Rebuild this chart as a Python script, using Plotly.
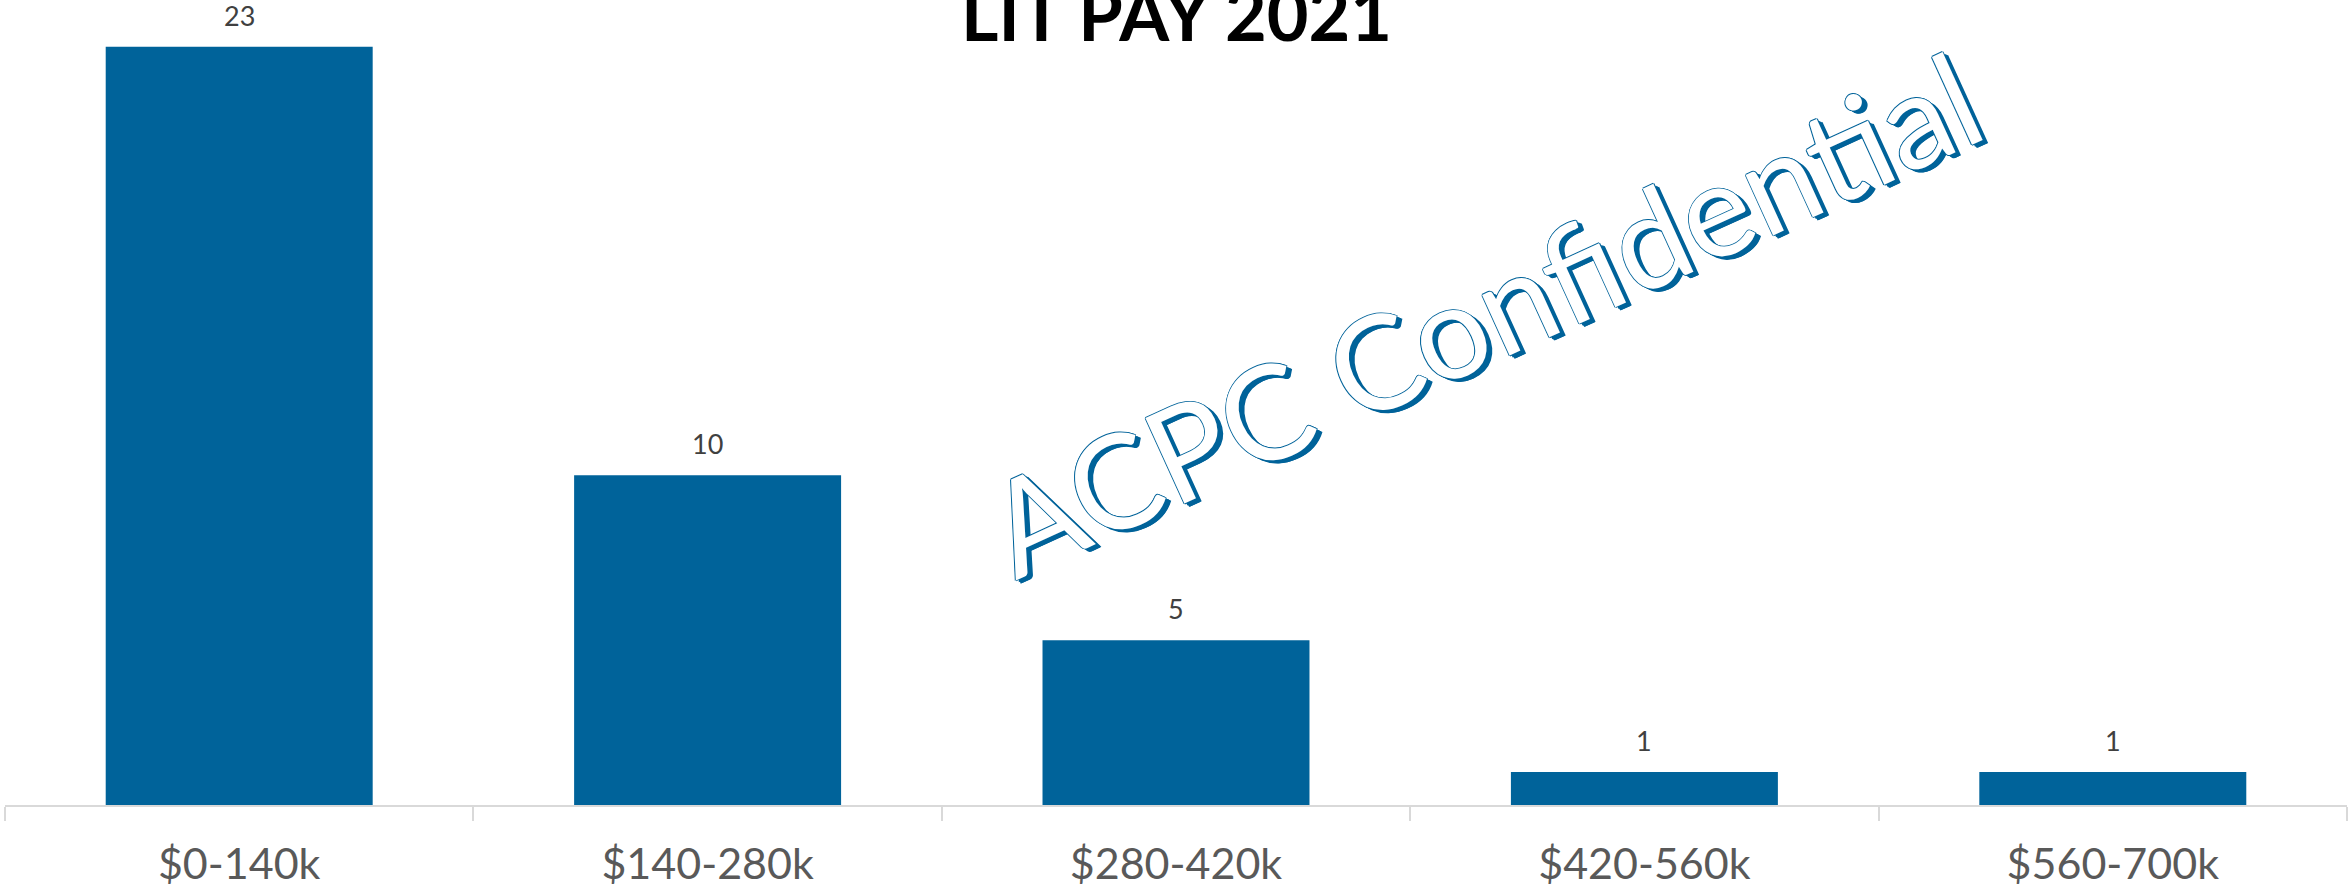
import plotly.graph_objects as go

categories = ["$0-140k", "$140-280k", "$280-420k", "$420-560k", "$560-700k"]
counts = [23, 10, 5, 1, 1]
title_text = "LIT PAY 2021"
watermark_text = "ACPC Confidential"

BLUE = "#00639A"
W, H = 2348, 890
ML, MR, MT, MB = 5, 1, 0, 85
PLOT_H = H - MT - MB

fig = go.Figure()
fig.add_trace(go.Bar(
    x=categories, y=counts,
    marker=dict(color=BLUE, line=dict(width=0)),
    hoverinfo="skip",
))

# data labels
for c, v in zip(categories, counts):
    fig.add_annotation(
        x=c, y=v, xref="x", yref="y", text=str(v), showarrow=False,
        yanchor="bottom", yshift=13,
        font=dict(family="Lato", size=27, color="#404040"),
    )

# title
fig.add_annotation(
    x=0.5, y=(PLOT_H - 58) / PLOT_H, xref="paper", yref="paper",
    text="<b>" + title_text + "</b>", showarrow=False,
    xanchor="center", yanchor="bottom",
    font=dict(family="Lato", size=72, color="#000000"),
)

# watermark
shadow = ", ".join([
    "1px 0 0 " + BLUE, "-1px 0 0 " + BLUE, "0 1px 0 " + BLUE, "0 -1px 0 " + BLUE,
    "2px 3px 0 " + BLUE, "3px 4px 0 " + BLUE, "3px 5px 0 " + BLUE, "4px 5px 0 " + BLUE,
])
fig.add_annotation(
    x=(1482 - ML) / (W - ML - MR), y=(PLOT_H - 312) / PLOT_H,
    xref="paper", yref="paper", text=watermark_text, showarrow=False,
    xanchor="center", yanchor="middle", textangle=-24.5,
    font=dict(family="Lato", size=131, color="#FFFFFF", shadow=shadow),
)

fig.update_layout(
    width=W, height=H,
    margin=dict(l=ML, r=MR, t=MT, b=MB, pad=0),
    paper_bgcolor="white", plot_bgcolor="white",
    bargap=0.43, showlegend=False,
    xaxis=dict(
        type="category", showgrid=False, zeroline=False,
        showline=True, linecolor="#D9D9D9", linewidth=2,
        ticks="outside", tickson="boundaries", ticklen=14, tickwidth=2,
        tickcolor="#D9D9D9", ticklabelstandoff=20,
        tickfont=dict(family="Lato", size=43, color="#595959"),
    ),
    yaxis=dict(range=[0, 24.42], visible=False, showgrid=False, zeroline=False),
)

fig.write_html(
    "out.html",
    config={"displayModeBar": False},
    post_script="document.body.style.margin='0';document.body.style.padding='0';",
)
